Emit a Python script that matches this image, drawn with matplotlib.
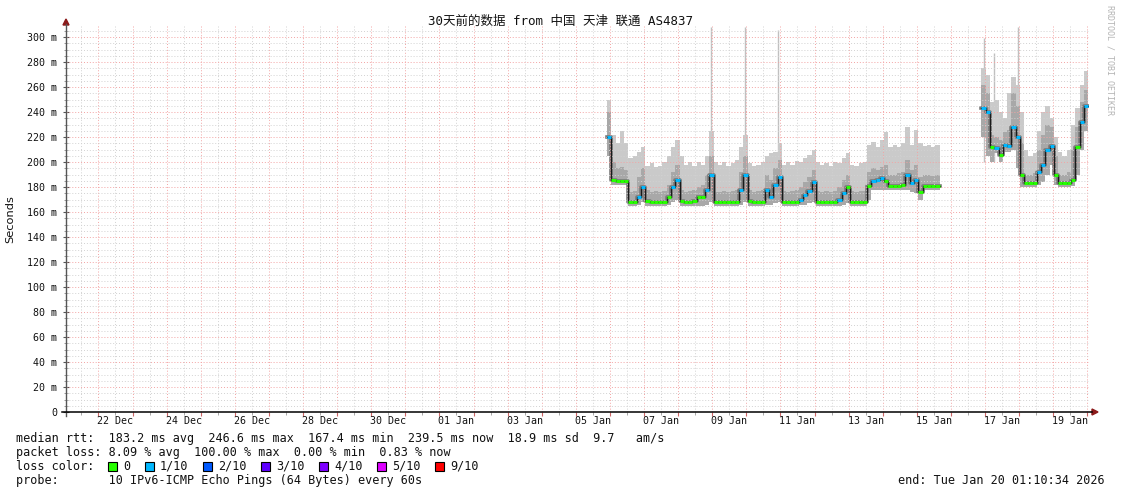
import datetime as dt
import matplotlib
matplotlib.use("Agg")
import matplotlib.pyplot as plt
import matplotlib.dates as mdates
from matplotlib.lines import Line2D
from matplotlib.patches import Rectangle, Polygon
from matplotlib.ticker import MultipleLocator, FuncFormatter

MONO = "DejaVu Sans Mono"
W, H = 1121, 494

END = dt.datetime(2026, 1, 20, 1, 10, 34)
START = END - dt.timedelta(days=30)
STEP = dt.timedelta(hours=3)

# --- segment 1: Jan 05 22:00 .. Jan 15 ~16:00, 3h buckets (ms) ---
seg1_start = dt.datetime(2026, 1, 5, 22, 0)
seg1_med = [220, 186, 185, 185, 185, 168, 168, 172, 180, 169,
            168, 168, 168, 168, 172, 180, 186, 169, 168, 168,
            169, 172, 172, 178, 190, 168, 168, 168, 168, 168,
            168, 178, 190, 169, 168, 168, 168, 178, 172, 182,
            188, 168, 168, 168, 168, 170, 174, 177, 184, 168,
            168, 168, 168, 168, 170, 175, 180, 168, 168, 168,
            168, 181, 185, 186, 187, 185, 181, 181, 181, 182,
            190, 183, 186, 176, 181, 181, 181, 181]
seg1_lo = [205, 182, 182, 182, 182, 165, 165, 166, 168, 165,
           165, 165, 165, 165, 166, 168, 170, 165, 165, 165,
           165, 165, 165, 166, 168, 165, 165, 165, 165, 165,
           165, 166, 168, 165, 165, 165, 165, 166, 166, 167,
           168, 165, 165, 165, 165, 166, 166, 167, 168, 165,
           165, 165, 165, 165, 165, 166, 167, 165, 165, 165,
           165, 170, 178, 178, 178, 178, 178, 178, 178, 178,
           178, 176, 175, 170, 178, 178, 178, 178]
seg1_mid = [240, 200, 195, 196, 194, 176, 177, 188, 195, 178,
            176, 177, 176, 177, 182, 192, 198, 178, 176, 177,
            178, 180, 182, 190, 205, 176, 176, 177, 176, 177,
            178, 192, 205, 178, 176, 177, 178, 190, 186, 195,
            202, 177, 176, 177, 178, 180, 184, 188, 194, 177,
            176, 177, 176, 177, 180, 186, 190, 177, 176, 177,
            177, 192, 195, 194, 196, 198, 190, 190, 191, 192,
            202, 194, 198, 188, 190, 190, 189, 190]
seg1_hi = [250, 222, 215, 225, 215, 203, 205, 208, 212, 197,
           199, 196, 197, 200, 205, 212, 218, 205, 198, 200,
           197, 200, 198, 205, 225, 200, 198, 200, 197, 199,
           202, 212, 222, 199, 197, 198, 200, 205, 207, 208,
           215, 198, 200, 198, 201, 200, 203, 206, 210, 200,
           198, 199, 197, 200, 199, 203, 207, 198, 197, 199,
           200, 214, 216, 212, 218, 224, 212, 214, 212, 215,
           228, 214, 226, 215, 213, 214, 212, 214]
seg1_loss = [1, 0, 0, 0, 0, 0, 0, 1, 1, 0,
             0, 0, 0, 0, 0, 1, 1, 0, 0, 0,
             0, 0, 0, 1, 1, 0, 0, 0, 0, 0,
             0, 1, 1, 0, 0, 0, 0, 1, 1, 1,
             1, 0, 0, 0, 0, 1, 1, 1, 1, 0,
             0, 0, 0, 0, 1, 1, 0, 0, 0, 0,
             0, 0, 1, 1, 1, 0, 0, 0, 0, 0,
             1, 1, 1, 0, 0, 0, 0, 0]

# --- segment 2: Jan 16 21:30 .. end ---
seg2_start = dt.datetime(2026, 1, 16, 21, 30)
seg2_med = [243, 240, 212, 211, 206, 214, 213, 228, 220, 190,
            183, 183, 183, 192, 198, 210, 213, 190, 183, 183,
            183, 186, 212, 232, 245]
seg2_lo = [220, 205, 200, 207, 200, 208, 208, 210, 195, 180,
           180, 180, 180, 182, 184, 190, 198, 182, 180, 180,
           180, 181, 190, 210, 225]
seg2_mid = [262, 255, 222, 220, 218, 224, 226, 255, 245, 215,
            190, 190, 191, 210, 222, 230, 228, 205, 190, 190,
            192, 210, 228, 248, 258]
seg2_hi = [275, 270, 248, 250, 240, 235, 255, 268, 262, 240,
           210, 205, 207, 225, 240, 245, 235, 220, 208, 205,
           210, 230, 243, 262, 273]
seg2_loss = [1, 1, 0, 1, 0, 1, 1, 1, 1, 0,
             0, 0, 0, 1, 1, 1, 1, 0, 0, 0,
             0, 0, 0, 1, 1]

# thin single-bucket max spikes
spike_times = [dt.datetime(2026, 1, 8, 23, 0), dt.datetime(2026, 1, 9, 23, 0),
               dt.datetime(2026, 1, 10, 22, 30), dt.datetime(2026, 1, 16, 23, 30),
               dt.datetime(2026, 1, 17, 6, 0), dt.datetime(2026, 1, 17, 23, 30)]
spike_tops = [308, 308, 306, 299, 287, 308]

label_days = ["2025-12-22", "2025-12-24", "2025-12-26", "2025-12-28", "2025-12-30",
              "2026-01-01", "2026-01-03", "2026-01-05", "2026-01-07", "2026-01-09",
              "2026-01-11", "2026-01-13", "2026-01-15", "2026-01-17", "2026-01-19"]

loss_names = ["0", "1/10", "2/10", "3/10", "4/10", "5/10", "9/10"]
loss_colors = ["#26ff00", "#00b8ff", "#0059ff", "#5e00ff", "#7e00ff", "#dd00ff", "#ff0000"]

rtt_line = "median rtt:  183.2 ms avg  246.6 ms max  167.4 ms min  239.5 ms now  18.9 ms sd  9.7   am/s"
loss_line = "packet loss: 8.09 % avg  100.00 % max  0.00 % min  0.83 % now"
probe_line = "probe:       10 IPv6-ICMP Echo Pings (64 Bytes) every 60s"
end_line = "end: Tue Jan 20 01:10:34 2026"

YMAX = 308.8

fig = plt.figure(figsize=(W / 100, H / 100), dpi=100)
fig.patch.set_facecolor("white")
ax = fig.add_axes([66 / W, 1 - 412 / H, (1089 - 66) / W, (412 - 26) / H])
ax.set_facecolor("white")


def fx(px):
    return px / W


def fy(py):
    return 1 - py / H


def draw_segment(start, med, lo, mid, hi, loss):
    n = len(med)
    t = [start + i * STEP for i in range(n + 1)]
    ax.fill_between(t, lo + lo[-1:], hi + hi[-1:], step="post", color="#cacaca", lw=0, zorder=1)
    ax.fill_between(t, lo + lo[-1:], mid + mid[-1:], step="post", color="#a8a8a8", lw=0, zorder=1.1)
    ax.step(t, med + med[-1:], where="post", color="#7a7a7a", lw=2.6, zorder=1.2)
    ax.step(t, med + med[-1:], where="post", color="#1a1a1a", lw=0.9, zorder=3)
    ax.hlines(med, t[:-1], t[1:], colors=[loss_colors[l] for l in loss], lw=2.2, zorder=4)


draw_segment(seg1_start, seg1_med, seg1_lo, seg1_mid, seg1_hi, seg1_loss)
draw_segment(seg2_start, seg2_med, seg2_lo, seg2_mid, seg2_hi, seg2_loss)
ax.vlines(spike_times, 200, spike_tops, color="#c0c0c0", lw=1.0, zorder=0.9)

ax.set_xlim(START, END)
ax.set_ylim(0, YMAX)

# grid drawn over the smoke like rrdtool
for d in range(31):
    day = dt.datetime(2025, 12, 21) + dt.timedelta(days=d)
    for tt, col in ((day, "#f3a4a4"), (day + dt.timedelta(hours=12), "#d2d2d2")):
        if START < tt < END:
            ax.axvline(tt, color=col, lw=0.7, ls=(0, (1, 2)), zorder=2.5)
for v in range(5, 310, 5):
    col = "#f3a4a4" if v % 20 == 0 else "#d2d2d2"
    ax.axhline(v, color=col, lw=0.7, ls=(0, (1, 2)), zorder=2.5)

for s in ax.spines.values():
    s.set_visible(False)

ax.yaxis.set_major_locator(MultipleLocator(20))
ax.yaxis.set_minor_locator(MultipleLocator(5))
ax.yaxis.set_major_formatter(FuncFormatter(lambda v, p: "0" if v == 0 else f"{int(v)} m"))
ax.tick_params(axis="y", which="major", direction="inout", length=5, width=0.8,
               color="#555555", labelsize=7.2, pad=4, labelcolor="#111111")
ax.tick_params(axis="y", which="minor", direction="inout", length=3, width=0.6, color="#888888")
for lab in ax.get_yticklabels():
    lab.set_fontfamily(MONO)

ax.xaxis.set_major_locator(mdates.DayLocator())
ax.xaxis.set_minor_locator(mdates.HourLocator(byhour=[12]))
ax.xaxis.set_major_formatter(plt.NullFormatter())
ax.tick_params(axis="x", which="major", direction="out", length=3, width=0.8, color="#cc6666")
ax.tick_params(axis="x", which="minor", direction="out", length=2, width=0.6, color="#999999")

trans = ax.get_xaxis_transform()
for d in label_days:
    tt = dt.datetime.strptime(d, "%Y-%m-%d") + dt.timedelta(hours=12)
    ax.text(tt, -0.023, tt.strftime("%d %b"), transform=trans, ha="center", va="center",
            fontsize=7.2, family=MONO, color="#111111")

# axis lines with arrows
fig.add_artist(Line2D([fx(66), fx(66)], [fy(416), fy(24)], color="#555555", lw=1.0))
fig.add_artist(Line2D([fx(62), fx(1092)], [fy(412), fy(412)], color="#000000", lw=1.1))
fig.add_artist(Polygon([(fx(63), fy(25)), (fx(69), fy(25)), (fx(66), fy(19))],
                       closed=True, color="#8b1a1a"))
fig.add_artist(Polygon([(fx(1092), fy(409)), (fx(1092), fy(415)), (fx(1098), fy(412))],
                       closed=True, color="#8b1a1a"))

fig.text(fx(560), fy(21), "30天前的数据 from 中国 天津 联通 AS4837", ha="center", va="center",
         fontsize=9.0, family=[MONO, "Noto Sans CJK SC"], color="#111111")
fig.text(fx(10), fy(219), "Seconds", rotation=90, ha="center", va="center",
         fontsize=8.2, family="DejaVu Sans", color="#111111")
fig.text(fx(1110), fy(5), "RRDTOOL / TOBI OETIKER", rotation=-90, ha="center", va="top",
         fontsize=6.0, family=MONO, color="#b4b4b4")

FS = 8.5
txt = dict(ha="left", va="center", fontsize=FS, family=MONO, color="#111111")
fig.text(fx(16), fy(438), rtt_line, **txt)
fig.text(fx(16), fy(452), loss_line, **txt)
fig.text(fx(16), fy(466), "loss color:", **txt)
sq_x = [108, 145, 203, 261, 319, 377, 435]
for xx, name, col in zip(sq_x, loss_names, loss_colors):
    fig.add_artist(Rectangle((fx(xx), fy(471)), 9 / W, 9 / H, facecolor=col, edgecolor="black", lw=0.8))
    fig.text(fx(xx + 15), fy(466), name, **txt)
fig.text(fx(16), fy(480), probe_line, **txt)
fig.text(fx(1105), fy(480), end_line, **dict(txt, ha="right"))

fig.savefig("out.png", dpi=100)
